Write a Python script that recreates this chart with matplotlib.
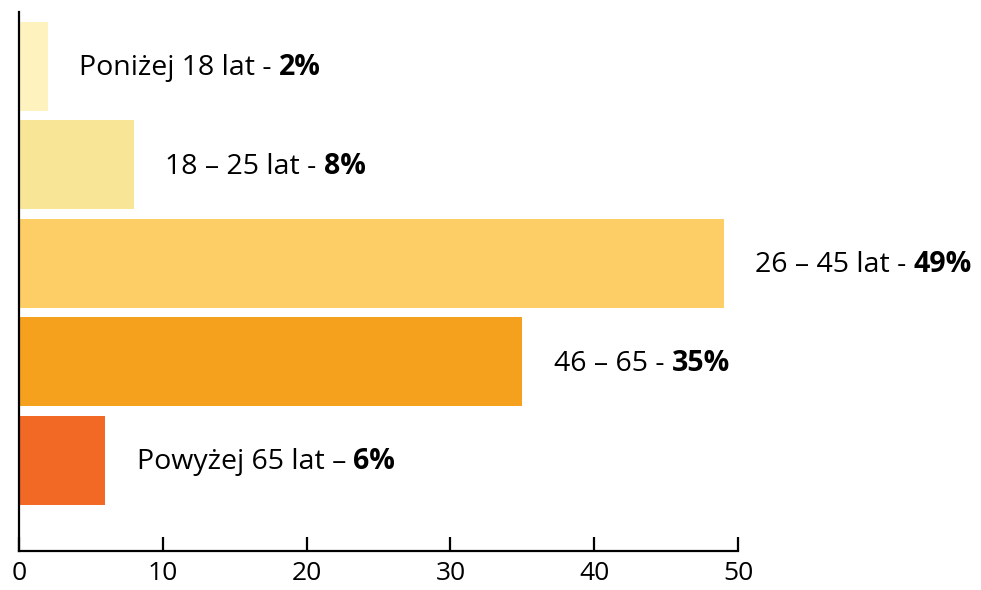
import matplotlib
matplotlib.use('Agg')
import matplotlib.pyplot as plt

plt.rcParams['font.family'] = ['Open Sans', 'DejaVu Sans']

# Age groups, share of respondents (%)
labels = ['Poniżej 18 lat - ', '18 – 25 lat - ', '26 – 45 lat - ', '46 – 65 - ', 'Powyżej 65 lat – ']
values = [2, 8, 49, 35, 6]
colors = ['#FEF2BF', '#F8E596', '#FDCE65', '#F6A11E', '#F26925']
xticks = [0, 10, 20, 30, 40, 50]

fig = plt.figure(figsize=(9.81, 5.90), dpi=100)
ax = fig.add_axes([0.0194, 0.066, 0.733, 0.914])

pos = list(range(len(values)))
ax.barh(pos, values, height=0.905, color=colors, zorder=2)

ax.set_xlim(0, 50)
ax.set_ylim(4.924, -0.554)
ax.set_xticks(xticks)
ax.set_yticks([])

for s in ['top', 'right']:
    ax.spines[s].set_visible(False)
for s in ['left', 'bottom']:
    ax.spines[s].set_linewidth(1.6)
    ax.spines[s].set_color('black')
    ax.spines[s].set_zorder(3)

ax.tick_params(axis='x', direction='in', length=10, width=1.6,
               labelsize=19, pad=7, colors='black')

# value labels: regular text followed by bold percentage
for p, v, lab in zip(pos, values, labels):
    t = ax.annotate(lab, xy=(v, p), xytext=(22.5, -1.5), textcoords='offset points',
                    ha='left', va='center', fontsize=20.5, color='black')
    ax.annotate(f'{v}%', xy=(1, 0), xycoords=t, ha='left', va='bottom',
                fontsize=20.5, fontweight='bold', color='black')

fig.savefig('out.png', dpi=100, facecolor='white')
